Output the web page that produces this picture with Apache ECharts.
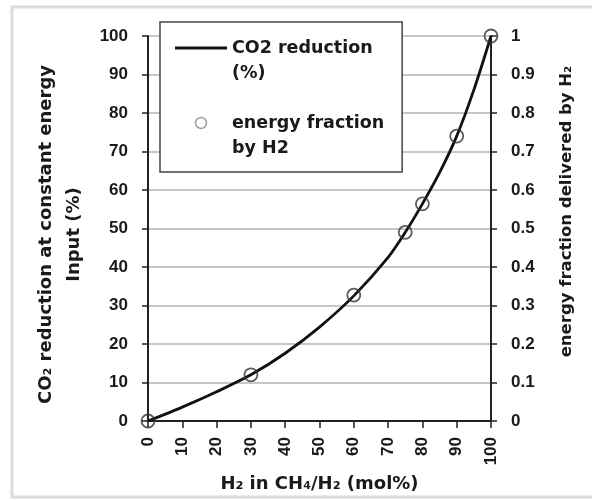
<!DOCTYPE html>
<html lang="en">
<head>
  <meta charset="utf-8">
  <title>CO2 reduction vs H2 fraction</title>
  <style>
    html, body { margin: 0; padding: 0; background: #fff; }
    #chart1 { width: 592px; height: 500px; }
  </style>
</head>
<body>

<script src="https://cdn.jsdelivr.net/npm/echarts@6/dist/echarts.min.js"></script>

<div id="chart1"></div>

<script>
  // curve: H2 share in the CH4/H2 mix (mol%) -> CO2 reduction at constant energy input (%)
  var curveH2 = [0, 10, 20, 30, 40, 50, 60, 70, 75, 80, 85, 90, 95, 100];
  var curveCo2 = [0, 3.6, 7.6, 12, 17.6, 24.4, 32.5, 42.5, 49, 56.4, 64.5, 74, 86, 100];

  // marked points: energy fraction delivered by H2
  var pointH2 = [0, 30, 60, 75, 80, 90, 100];
  var energyFraction = [0, 0.12, 0.327, 0.49, 0.564, 0.74, 1.0];

  var xTicks = { min: 0, max: 100, interval: 10 };
  var leftTicks = { min: 0, max: 100, interval: 10 };
  var rightTicks = { min: 0, max: 1, interval: 0.1 };

  var lineName = 'CO2 reduction (%)';
  var dotName = 'energy fraction by H2';
  // leading blank line so the icon sits next to the first text line
  var legendText = {};
  legendText[lineName] = '\nCO2 reduction\n(%)';
  legendText[dotName] = '\nenergy fraction\nby H2';

  var digitFont = '"Liberation Sans", Arial, sans-serif';
  var textFont = '"DejaVu Sans", Verdana, sans-serif';
  var ink = '#1a1a1a';

  function pairs(xs, ys) {
    var out = [];
    for (var i = 0; i < xs.length; i++) {
      out.push([xs[i], ys[i]]);
    }
    return out;
  }

  var chart1 = echarts.init(document.getElementById('chart1'), null, { renderer: 'canvas' });

  var tickLabel = { color: ink, fontFamily: digitFont, fontWeight: 'bold', fontSize: 17 };

  var option = {
    backgroundColor: '#fff',
    animation: false,
    graphic: [
      {
        type: 'rect',
        shape: { x: 12, y: 7, width: 600, height: 490 },
        style: { fill: null, stroke: '#dcdcdc', lineWidth: 3 },
        silent: true,
        z: -1
      }
    ],
    legend: {
      orient: 'vertical',
      left: 160,
      top: 22,
      padding: [-11.5, 18, 11.5, 15],
      itemGap: 0,
      itemWidth: 52,
      itemHeight: 11,
      backgroundColor: '#fff',
      borderColor: '#444',
      borderWidth: 1.5,
      borderRadius: 0,
      selectedMode: false,
      textStyle: {
        color: ink,
        fontFamily: textFont,
        fontWeight: 'bold',
        fontSize: 17.5,
        lineHeight: 25
      },
      formatter: function (name) {
        return legendText[name];
      },
      data: [
        {
          name: lineName,
          icon: 'path://M0 0H52V3H0Z',
          itemStyle: { color: '#111', borderWidth: 0 }
        },
        {
          name: dotName,
          icon: 'circle',
          itemStyle: { color: 'rgba(255,255,255,0)', borderColor: '#888', borderWidth: 1.5 }
        }
      ]
    },
    grid: {
      left: 148,
      right: 101,
      top: 36,
      bottom: 79,
      containLabel: false,
      outerBoundsMode: 'none'
    },
    xAxis: {
      type: 'value',
      min: xTicks.min,
      max: xTicks.max,
      interval: xTicks.interval,
      name: 'H\u2082 in CH\u2084/H\u2082 (mol%)',
      nameLocation: 'middle',
      nameGap: 53,
      nameTextStyle: { color: ink, fontFamily: textFont, fontWeight: 'bold', fontSize: 18, lineHeight: 20 },
      axisLine: { lineStyle: { color: '#222', width: 2 } },
      axisTick: { show: true, length: 7, lineStyle: { color: '#222', width: 1.5 } },
      axisLabel: Object.assign({ rotate: 90, margin: 16 }, tickLabel),
      splitLine: { show: false }
    },
    yAxis: [
      {
        type: 'value',
        position: 'left',
        min: leftTicks.min,
        max: leftTicks.max,
        interval: leftTicks.interval,
        name: 'CO\u2082 reduction at constant energy\nInput (%)',
        nameLocation: 'middle',
        nameRotate: 90,
        nameGap: 56,
        nameTextStyle: {
          color: ink, fontFamily: textFont, fontWeight: 'bold', fontSize: 18,
          lineHeight: 28, align: 'center', padding: [0, 12, 0, 0]
        },
        axisLine: { show: true, lineStyle: { color: '#222', width: 2 } },
        axisTick: { show: true, length: 6, lineStyle: { color: '#222', width: 1.5 } },
        axisLabel: Object.assign({ margin: 20 }, tickLabel),
        splitLine: { show: true, lineStyle: { color: '#b4b4b4', width: 1.5 } }
      },
      {
        type: 'value',
        position: 'right',
        min: rightTicks.min,
        max: rightTicks.max,
        interval: rightTicks.interval,
        name: 'energy fraction delivered by H\u2082',
        nameLocation: 'middle',
        nameRotate: 90,
        nameGap: 66,
        nameTextStyle: {
          color: ink, fontFamily: textFont, fontWeight: 'bold', fontSize: 16.5,
          lineHeight: 20, align: 'center', padding: [0, 0, 0, 34]
        },
        axisLine: { show: true, lineStyle: { color: '#222', width: 2 } },
        axisTick: { show: true, length: 6, lineStyle: { color: '#222', width: 1.5 } },
        axisLabel: Object.assign({
          margin: 20,
          formatter: function (v) { return String(Math.round(v * 10) / 10); }
        }, tickLabel),
        splitLine: { show: false }
      }
    ],
    series: [
      {
        name: lineName,
        type: 'line',
        yAxisIndex: 0,
        data: pairs(curveH2, curveCo2),
        smooth: 0.3,
        showSymbol: false,
        symbol: 'none',
        lineStyle: { color: '#111', width: 2.8 },
        itemStyle: { color: '#111' },
        z: 3
      },
      {
        name: dotName,
        type: 'scatter',
        yAxisIndex: 1,
        data: pairs(pointH2, energyFraction),
        symbol: 'circle',
        symbolSize: 13,
        itemStyle: { color: 'rgba(255,255,255,0)', borderColor: '#333', borderWidth: 1.8 },
        z: 4
      }
    ]
  };

  chart1.setOption(option);
</script>

</body>
</html>
